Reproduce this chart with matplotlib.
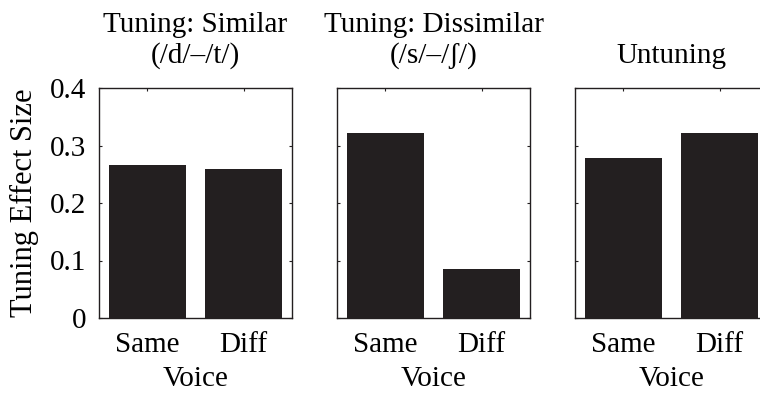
import matplotlib

matplotlib.use("Agg")
import matplotlib.pyplot as plt

plt.rcParams["font.family"] = ["Liberation Serif", "DejaVu Serif"]
plt.rcParams["font.size"] = 21

# tuning effect size per condition
titles = ["Tuning: Similar\n(/d/\u2013/t/)", "Tuning: Dissimilar\n(/s/\u2013/\u0283/)", "Untuning"]
voices = ["Same", "Diff"]
effect_similar = [0.266, 0.260]
effect_dissimilar = [0.321, 0.085]
effect_untuning = [0.279, 0.321]
yticks = [0, 0.1, 0.2, 0.3, 0.4]
ytick_labels = ["0", "0.1", "0.2", "0.3", "0.4"]

BAR_COLOR = "#231f20"
W, H = 760, 395

fig = plt.figure(figsize=(W / 100, H / 100), dpi=100)
fig.patch.set_facecolor("white")

lefts = [99, 337, 575]
series = [effect_similar, effect_dissimilar, effect_untuning]
for i, (x0, vals, title) in enumerate(zip(lefts, series, titles)):
    ax = fig.add_axes([x0 / W, (H - 318) / H, 193 / W, 230 / H])
    pos = [1, 2]
    ax.bar(pos, vals, width=0.8, color=BAR_COLOR, edgecolor="none")
    ax.set_xlim(0.5, 2.5)
    ax.set_ylim(0, 0.4)
    ax.set_xticks(pos)
    ax.set_xticklabels(voices)
    ax.set_yticks(yticks)
    if i == 0:
        ax.set_yticklabels(ytick_labels)
        ax.set_ylabel("Tuning Effect Size", labelpad=8, fontsize=22)
    else:
        ax.set_yticklabels([])
    ax.tick_params(direction="in", length=2.5, width=0.8, top=True, right=True,
                   pad=9, color="#231f20")
    ax.tick_params(axis="x", pad=10)
    for sp in ax.spines.values():
        sp.set_linewidth(1.0)
        sp.set_color("#231f20")
    ax.set_xlabel("Voice", labelpad=6)
    ax.set_title(title, pad=18, linespacing=1.2, fontsize=21)

plt.savefig("out.png", dpi=100, facecolor="white")
plt.close(fig)
